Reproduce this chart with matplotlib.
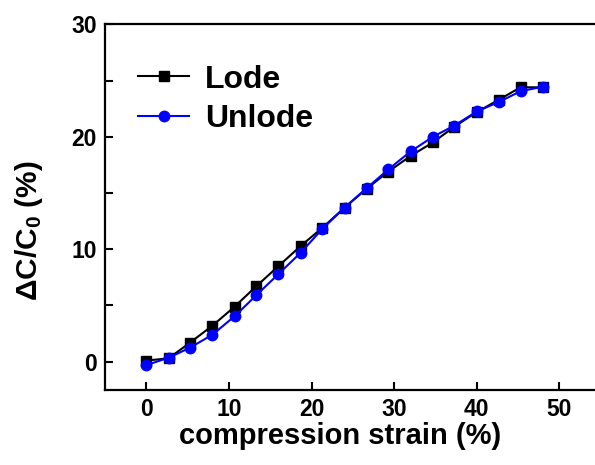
import numpy as np
import matplotlib
matplotlib.use("Agg")
import matplotlib.pyplot as plt

# values
strain = [0, 2.7, 5.3, 8.0, 10.7, 13.3, 16.0, 18.7, 21.3, 24.0,
          26.7, 29.3, 32.0, 34.7, 37.3, 40.0, 42.7, 45.3, 48.0]
lode = [0.1, 0.3, 1.7, 3.2, 4.9, 6.7, 8.5, 10.3, 11.9, 13.7,
        15.4, 16.9, 18.3, 19.5, 20.9, 22.2, 23.3, 24.4, 24.4]
unlode = [-0.3, 0.35, 1.25, 2.4, 4.05, 5.9, 7.8, 9.7, 11.8, 13.7,
          15.45, 17.1, 18.7, 20.0, 21.0, 22.25, 23.1, 24.05, 24.45]

xticks = [0, 10, 20, 30, 40, 50]
yticks = [0, 10, 20, 30]
yminor = [5, 15, 25]

plt.rcParams['font.family'] = ['Liberation Sans', 'DejaVu Sans']
plt.rcParams['font.weight'] = 'bold'
plt.rcParams['mathtext.fontset'] = 'custom'
plt.rcParams['mathtext.rm'] = 'Liberation Sans:bold'
plt.rcParams['mathtext.it'] = 'Liberation Sans:bold'
plt.rcParams['mathtext.bf'] = 'Liberation Sans:bold'

fig = plt.figure(figsize=(5.95, 4.65), dpi=100)
# right spine of the original is cut off by the image edge
ax = fig.add_axes([0.1765, 0.1617, 0.833, 0.786])

ax.plot(strain, lode, color='black', lw=1.5, marker='s', ms=6.5, label='Lode')
ax.plot(strain, unlode, color='#0000ff', lw=1.5, marker='o', ms=7.5, label='Unlode')

ax.set_xlim(-5, 55)
ax.set_ylim(-2.5, 30)
ax.set_xticks(xticks)
ax.set_yticks(yticks)
ax.set_yticks(yminor, minor=True)
ax.tick_params(axis='both', which='both', direction='in', length=6, width=1.5,
               labelsize=16.5, pad=6)
for lab in ax.get_xticklabels() + ax.get_yticklabels():
    lab.set_fontweight('bold')
for sp in ax.spines.values():
    sp.set_linewidth(1.6)

ax.set_xlabel('compression strain (%)', fontsize=21, fontweight='bold')
ax.xaxis.set_label_coords(0.474, -0.088)
ax.set_ylabel('ΔC/C$_0$ (%)', fontsize=21.5, fontweight='bold')
ax.yaxis.set_label_coords(-0.122, 0.435)

ax.legend(loc='upper left', bbox_to_anchor=(0.067, 0.89), frameon=False,
          borderaxespad=0, borderpad=0, handlelength=1.6, handletextpad=0.5,
          labelspacing=0.3, prop={'size': 23, 'weight': 'bold'})

fig.savefig('out.png', dpi=100)
